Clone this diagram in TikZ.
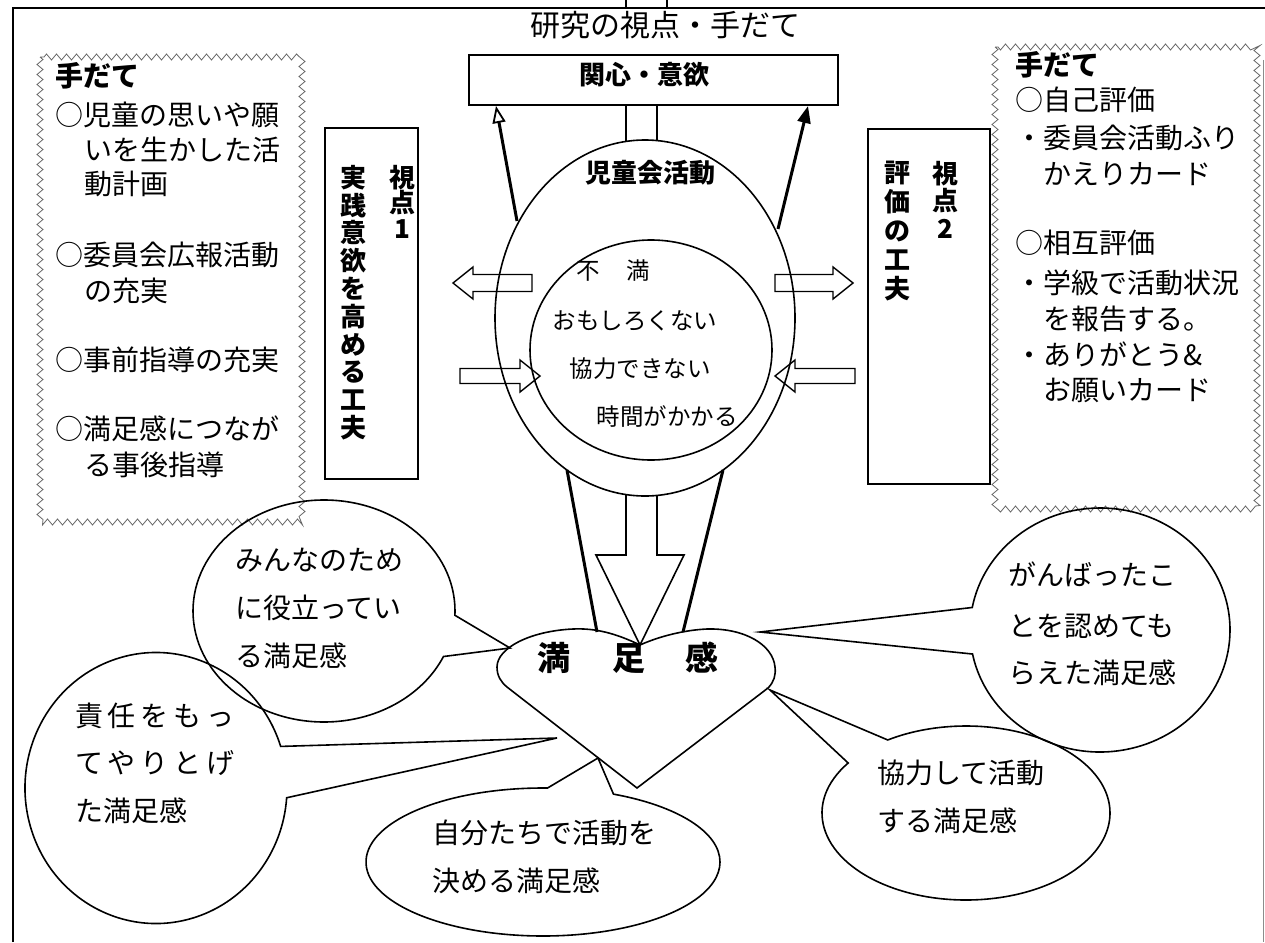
\documentclass[tikz,border=0pt]{standalone}
\usepackage{fontspec}
\setmainfont{Noto Sans CJK JP}
\usetikzlibrary{arrows.meta,decorations.pathmorphing,shapes.callouts,shapes.geometric}
\begin{document}
\begin{tikzpicture}[x=1pt,y=-1pt,
  ln/.style={line width=1.6pt},
  thickln/.style={line width=3pt},
  txt/.style={inner sep=0pt,anchor=west,text height=0.86em,text depth=0.14em,font=\fontsize{28}{30}\selectfont},
  ctxt/.style={txt,anchor=center},
  wavy/.style={draw=black!60,line width=0.8pt,decorate,decoration={zigzag,segment length=10pt,amplitude=3pt}},
  bubble/.style={ellipse callout,draw,line width=1.6pt,inner sep=0pt,callout pointer arc=22},
  vtxt/.style={inner sep=0pt,anchor=north,align=center},
  harrow/.style={draw,line width=1.4pt,line join=miter},
  plainbox/.style={draw,line width=1.6pt,inner sep=0pt}]
\fill[white] (0,0) rectangle (1265,942);
\useasboundingbox (0,0) rectangle (1265,942);
% frame
\draw[ln] (13,942) -- (13,8) -- (1265,8);
\draw[ln] (626,0) -- (626,8) (667,0) -- (667,8);
\draw[black!45,line width=1pt] (1263,60) -- (1263,942);
% title
\node[ctxt,font=\fontsize{30}{32}\selectfont] (title) at (665,33) {研究の視点・手だて};
% top box
\node[plainbox,minimum width=369pt,minimum height=50pt] (box1) at (653.5,80) {};
\node[ctxt,font=\fontsize{26}{28}\selectfont\bfseries] (box1t) at (644,81) {関心・意欲};
% left wavy box
\draw[wavy] (40,57) rectangle (302,522);
\node[txt,font=\fontsize{28}{30}\selectfont\bfseries] (l0) at (55,83) {手だて};
\node[txt] (l1) at (55,122) {○児童の思いや願};
\node[txt] (l2) at (84,157) {いを生かした活};
\node[txt] (l3) at (84,191) {動計画};
\node[txt] (l4) at (55,262) {○委員会広報活動};
\node[txt] (l5) at (84,298) {の充実};
\node[txt] (l6) at (55,367) {○事前指導の充実};
\node[txt] (l7) at (55,436) {○満足感につなが};
\node[txt] (l8) at (84,472) {る事後指導};
% right wavy box
\draw[wavy] (995,47) rectangle (1257,509);
\node[txt,font=\fontsize{28}{30}\selectfont\bfseries] (r0) at (1015,72) {手だて};
\node[txt] (r1) at (1015,107) {○自己評価};
\node[txt] (r2) at (1015,145) {・委員会活動ふり};
\node[txt] (r3) at (1043,181) {かえりカード};
\node[txt] (r4) at (1015,250) {○相互評価};
\node[txt] (r5) at (1015,290) {・学級で活動状況};
\node[txt] (r6) at (1043,326) {を報告する。};
\node[txt] (r7) at (1015,362) {・ありがとう\&};
\node[txt] (r8) at (1043,397) {お願いカード};
% viewpoint boxes
\node[plainbox,minimum width=93pt,minimum height=351pt] (v1) at (371.5,303.5) {};
\node[vtxt,font=\fontsize{26}{25.5}\selectfont\bfseries] (v1a) at (402,165) {視\\点\\1};
\node[vtxt,font=\fontsize{26}{27.8}\selectfont\bfseries] (v1b) at (353,165) {実\\践\\意\\欲\\を\\高\\め\\る\\工\\夫};
\node[plainbox,minimum width=122pt,minimum height=355pt] (v2) at (929,306.5) {};
\node[vtxt,font=\fontsize{26}{27.5}\selectfont\bfseries] (v2a) at (945,161) {視\\点\\2};
\node[vtxt,font=\fontsize{26}{29}\selectfont\bfseries] (v2b) at (897,161) {評\\価\\の\\工\\夫};
% central egg
\node[ellipse,draw,line width=1.6pt,minimum width=300pt,minimum height=356pt,inner sep=0pt] (egg) at (645,318) {};
\node[ellipse,draw,line width=1.6pt,minimum width=242pt,minimum height=220pt,inner sep=0pt] (inner) at (651,350) {};
\node[ctxt,font=\fontsize{26}{28}\selectfont\bfseries] (eggt) at (650,179) {児童会活動};
\node[ctxt,font=\fontsize{23.5}{25}\selectfont] (i1) at (613,276) {不\hspace{26pt}満};
\node[ctxt,font=\fontsize{23.5}{25}\selectfont] (i2) at (635,326) {おもしろくない};
\node[ctxt,font=\fontsize{23.5}{25}\selectfont] (i3) at (640,374) {協力できない};
\node[ctxt,font=\fontsize{23.5}{25}\selectfont] (i4) at (667,422) {時間がかかる};
% double line top
\draw[ln] (626,105) -- (626,141) (657,105) -- (657,141);
% arrows to top box
\coordinate (ua1) at (517,221); \coordinate (ub1) at (496,106);
\coordinate (ua2) at (778,229); \coordinate (ub2) at (808,106);
\draw[thickln,-{Triangle[open,length=17pt,width=13pt,line width=1.8pt]}] (ua1) -- (ub1);
\draw[thickln,-{Triangle[length=17pt,width=13pt]}] (ua2) -- (ub2);
% hollow side arrows
\draw[harrow] (532,274.5) -- (473,274.5) -- (473,267) -- (453,283) -- (473,299) -- (473,291.5) -- (532,291.5) -- cycle;
\draw[harrow] (775,274.5) -- (833,274.5) -- (833,267) -- (853,283) -- (833,299) -- (833,291.5) -- (775,291.5) -- cycle;
\draw[harrow] (460,368.5) -- (520,368.5) -- (520,360) -- (540,376) -- (520,392) -- (520,383.5) -- (460,383.5) -- cycle;
\draw[harrow] (855,368.5) -- (795,368.5) -- (795,360) -- (775,376) -- (795,392) -- (795,383.5) -- (855,383.5) -- cycle;
% lines to heart
\coordinate (da1) at (567,470); \coordinate (db1) at (597,632);
\coordinate (da2) at (723,470); \coordinate (db2) at (683,632);
\draw[thickln] (da1) -- (db1);
\draw[thickln] (da2) -- (db2);
% big hollow arrow
\draw[ln,line join=miter] (626,495) -- (626,555) -- (596,555) -- (640,645) -- (684,555) -- (657,555) -- (657,495);
% heart
\draw[ln] (640,645) .. controls (615,633) and (595,628) .. (573,629) .. controls (530,631) and (497,648) .. (497,667) .. controls (497,676) and (501,682) .. (507,687) -- (637,788) -- (768,688) .. controls (774,682) and (776,675) .. (775,667) .. controls (773,645) and (745,628) .. (707,629) .. controls (685,630) and (660,636) .. (640,645) -- cycle;
\node[ctxt,font=\fontsize{33}{35}\selectfont\bfseries] (heart) at (628,667) {満\hspace{42pt}足\hspace{40pt}感};
% bubbles
\coordinate (tipA) at (510,648);
\coordinate (tipB) at (557,738);
\coordinate (tipC) at (598,758);
\coordinate (tipD) at (770,690);
\coordinate (tipE) at (760,632);
\node[bubble,minimum width=262pt,minimum height=222pt,callout absolute pointer={(tipA)}] (bubA) at (324,611) {};
\node[bubble,minimum width=262pt,minimum height=271pt,callout absolute pointer={(tipB)}] (bubB) at (156,788) {};
\node[bubble,minimum width=354pt,minimum height=148pt,callout absolute pointer={(tipC)}] (bubC) at (543,862) {};
\node[bubble,minimum width=288pt,minimum height=174pt,callout absolute pointer={(tipD)}] (bubD) at (966,813) {};
\node[bubble,minimum width=260pt,minimum height=244pt,callout absolute pointer={(tipE)}] (bubE) at (1100,630) {};
\node[txt] (a1) at (235,567) {みんなのため};
\node[txt] (a2) at (235,615) {に役立ってい};
\node[txt] (a3) at (235,663) {る満足感};
\node[txt,font=\fontsize{28}{30}\selectfont\addfontfeature{LetterSpace=17}] (b1) at (75,723) {責任をもっ};
\node[txt,font=\fontsize{28}{30}\selectfont\addfontfeature{LetterSpace=17}] (b2) at (75,770) {てやりとげ};
\node[txt] (b3) at (75,818) {た満足感};
\node[txt] (c1) at (432,840) {自分たちで活動を};
\node[txt] (c2) at (432,888) {決める満足感};
\node[txt] (d1) at (877,780) {協力して活動};
\node[txt] (d2) at (877,828) {する満足感};
\node[txt] (e1) at (1008,582) {がんばったこ};
\node[txt] (e2) at (1008,633) {とを認めても};
\node[txt] (e3) at (1008,680) {らえた満足感};
\end{tikzpicture}
\end{document}
